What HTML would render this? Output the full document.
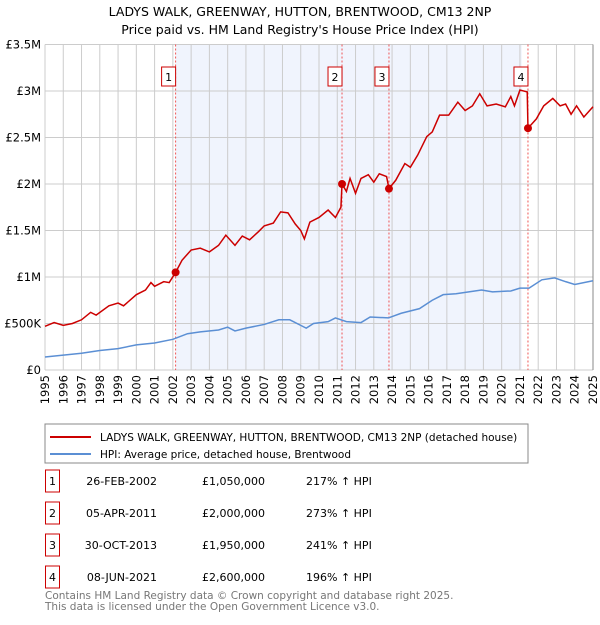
<!DOCTYPE html>
<html><head><meta charset="utf-8"><style>
body{margin:0;background:#fff;font-family:"Liberation Sans","DejaVu Sans",sans-serif;}
svg text{font-family:"DejaVu Sans","Liberation Sans",sans-serif;}
</style></head><body>
<svg id="c" width="600" height="620" xmlns="http://www.w3.org/2000/svg">
<text x="300" y="16" text-anchor="middle" font-size="12.5">LADYS WALK, GREENWAY, HUTTON, BRENTWOOD, CM13 2NP</text>
<text x="300" y="34" text-anchor="middle" font-size="12.5">Price paid vs. HM Land Registry's House Price Index (HPI)</text>
<g id="plot"></g>
<rect x="45" y="424" width="483" height="39" fill="#fff" stroke="#888"/>
<line x1="50" y1="437" x2="91" y2="437" stroke="#cc0000" stroke-width="2"/>
<text x="100" y="441" font-size="10.5">LADYS WALK, GREENWAY, HUTTON, BRENTWOOD, CM13 2NP (detached house)</text>
<line x1="50" y1="454" x2="91" y2="454" stroke="#5b8fd4" stroke-width="2"/>
<text x="100" y="458" font-size="10.5">HPI: Average price, detached house, Brentwood</text>
<g id="tbl" font-size="11"></g>
<text x="45" y="599" font-size="10.5" fill="#777">Contains HM Land Registry data © Crown copyright and database right 2025.</text>
<text x="45" y="610" font-size="10.5" fill="#777">This data is licensed under the Open Government Licence v3.0.</text>
</svg>
<script>
const redX=[1995,1995.5,1996,1996.5,1997,1997.5,1997.8,1998.5,1999,1999.3,2000,2000.5,2000.8,2001,2001.5,2001.8,2002.15,2002.5,2003,2003.5,2004,2004.5,2004.9,2005.4,2005.8,2006.2,2006.7,2007,2007.5,2007.9,2008.3,2008.7,2009,2009.2,2009.5,2010,2010.5,2010.9,2011.2,2011.26,2011.5,2011.7,2012,2012.3,2012.7,2013,2013.3,2013.7,2013.83,2014.2,2014.7,2015,2015.4,2015.9,2016.2,2016.6,2017.1,2017.6,2018,2018.4,2018.8,2019.2,2019.7,2020.2,2020.5,2020.7,2021,2021.4,2021.44,2021.9,2022.3,2022.8,2023.2,2023.5,2023.8,2024.1,2024.5,2025];
const redV=[0.47,0.51,0.48,0.50,0.54,0.62,0.59,0.69,0.72,0.69,0.81,0.86,0.94,0.90,0.95,0.94,1.05,1.18,1.29,1.31,1.27,1.34,1.45,1.34,1.44,1.40,1.49,1.55,1.58,1.70,1.69,1.57,1.50,1.41,1.59,1.64,1.72,1.64,1.75,2.00,1.92,2.06,1.90,2.06,2.10,2.02,2.11,2.08,1.95,2.04,2.22,2.18,2.31,2.51,2.56,2.74,2.74,2.88,2.79,2.84,2.97,2.84,2.86,2.83,2.94,2.84,3.01,2.99,2.60,2.70,2.84,2.92,2.84,2.86,2.75,2.84,2.72,2.83];
const hpiX=[1995,1996,1997,1998,1999,2000,2001,2002,2002.8,2003.5,2004.5,2005,2005.4,2006,2007,2007.8,2008.4,2009,2009.3,2009.7,2010.5,2010.9,2011.5,2012.3,2012.8,2013.8,2014.5,2015.5,2016.2,2016.8,2017.5,2018.2,2018.9,2019.5,2020.5,2021,2021.5,2022.2,2022.9,2023.5,2024,2025];
const hpiV=[0.14,0.16,0.18,0.21,0.23,0.27,0.29,0.33,0.39,0.41,0.43,0.46,0.42,0.45,0.49,0.54,0.54,0.48,0.45,0.50,0.52,0.56,0.52,0.51,0.57,0.56,0.61,0.66,0.75,0.81,0.82,0.84,0.86,0.84,0.85,0.88,0.88,0.97,0.99,0.95,0.92,0.96];
const saleX=[2002.15,2011.26,2013.83,2021.44];
const saleV=[1.05,2.00,1.95,2.60];
const saleLabels=["1","2","3","4"];
const saleDates=["26-FEB-2002","05-APR-2011","30-OCT-2013","08-JUN-2021"];
const salePrices=["£1,050,000","£2,000,000","£1,950,000","£2,600,000"];
const salePct=["217% ↑ HPI","273% ↑ HPI","241% ↑ HPI","196% ↑ HPI"];
const yTicks=[0,0.5,1,1.5,2,2.5,3,3.5];
const yTickLabels=["£0","£500K","£1M","£1.5M","£2M","£2.5M","£3M","£3.5M"];
const shadeRange=[2002.15,2021.1];

const NS="http://www.w3.org/2000/svg";
const X0=45,X1=593,Y0=370,Y1=44.5;
const xs=y=>X0+(y-1995)/30*(X1-X0);
const ys=v=>Y0-v/3.5*(Y0-Y1);
const g=document.getElementById('plot');
function mk(t,a,p){const e=document.createElementNS(NS,t);for(const k in a)e.setAttribute(k,a[k]);(p||g).appendChild(e);return e;}
let r=mk('rect',{x:xs(shadeRange[0]),y:Y1,width:xs(shadeRange[1])-xs(shadeRange[0]),height:Y0-Y1,fill:'#f0f4fd'});


for(let yr=1995;yr<=2025;yr++){
  let l=mk('line',{x1:xs(yr),x2:xs(yr),y1:Y1,y2:Y0,stroke:'#ccc'});
  
  
  let t=mk('text',{x:0,y:0,'font-size':11.5,'text-anchor':'end',transform:`translate(${xs(yr)+4},${Y0+5}) rotate(-90)`});
  t.textContent=yr;
  
  
}
yTicks.forEach((v,i)=>{
  let l=mk('line',{x1:X0,x2:X1,y1:ys(v),y2:ys(v),stroke:'#ccc'});
  
  
  let t=mk('text',{x:X0-4,y:ys(v)+4,'font-size':11.5,'text-anchor':'end'});
  t.textContent=yTickLabels[i];
  
  
});
let ax=mk('line',{x1:X1,x2:X1,y1:Y1,y2:Y0,stroke:'#888'});


saleX.forEach((s,i)=>{
  let l=mk('line',{x1:xs(s),x2:xs(s),y1:Y1,y2:Y0,stroke:'#e55','stroke-dasharray':'2,2'});
  
  
  let b=mk('rect',{x:xs(s)-14,y:67,width:14,height:19,fill:'#fff',stroke:'#c00'});
  
  
  let t=mk('text',{x:xs(s)-7,y:81,'font-size':11,'text-anchor':'middle'});
  t.textContent=saleLabels[i];
  
  
});
let hp=mk('polyline',{points:hpiX.map((x,i)=>xs(x)+','+ys(hpiV[i])).join(' '),fill:'none',stroke:'#5b8fd4','stroke-width':1.5});


let rp=mk('polyline',{points:redX.map((x,i)=>xs(x)+','+ys(redV[i])).join(' '),fill:'none',stroke:'#cc0000','stroke-width':1.5});


saleX.forEach((s,i)=>{
  let c=mk('circle',{cx:xs(s),cy:ys(saleV[i]),r:4,fill:'#cc0000'});
  
  
});
const tb=document.getElementById('tbl');
const rowY=[481,513,545,577];
saleLabels.forEach((lab,i)=>{
  const y=rowY[i];
  let b=mk('rect',{x:45.5,y:y-11,width:14,height:22,fill:'#fff',stroke:'#c00'},tb);
  
  
  const cells=[[52.5,lab,'middle','table-row-number'],[157,saleDates[i],'end','table-row-date'],[265,salePrices[i],'end','table-row-price'],[306,salePct[i],'start','table-row-hpi-change']];
  cells.forEach(c=>{
    let t=mk('text',{x:c[0],y:y+4,'text-anchor':c[2]},tb);
    t.textContent=c[1];
    
    
  });
});
</script>
</body></html>
